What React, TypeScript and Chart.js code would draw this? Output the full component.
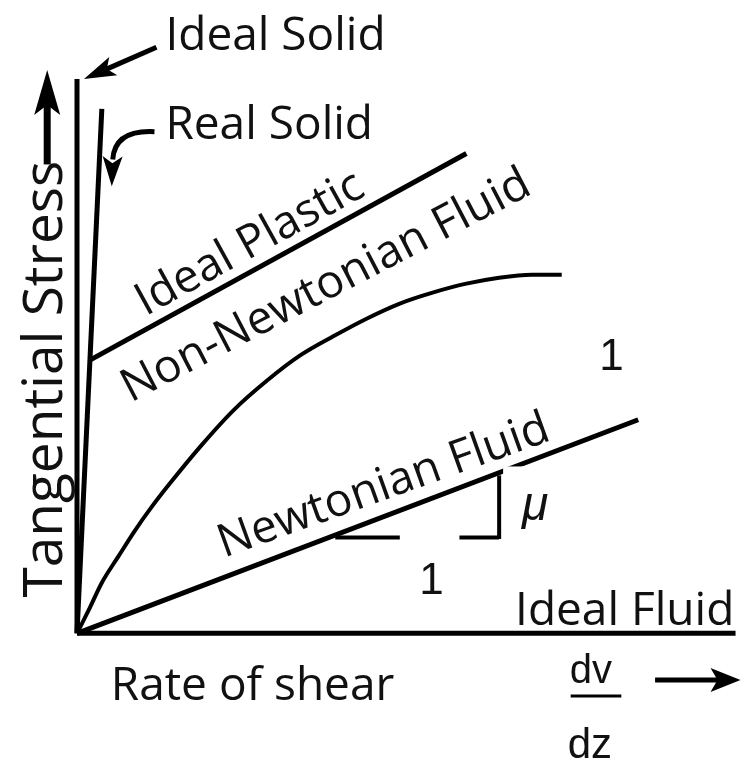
import React, { useEffect, useRef } from "react";
import { Chart, registerables } from "chart.js";
Chart.register(...registerables);

// Rate of shear (x) vs tangential stress (y), arbitrary units
const idealSolidX = [0, 0];
const idealSolidY = [0, 55.8];
const realSolidX = [0, 2.5];
const realSolidY = [0, 52.8];
const idealPlasticX = [1.3, 39.2];
const idealPlasticY = [27.5, 48.3];
const nonNewtonianX = [0, 1.3, 2.5, 4.2, 5.8, 7.5, 9.2, 12.5, 15.8, 19.2, 22.5, 25.8, 29.2, 32.5, 35.8, 39.2, 42.5, 45.8, 48.8];
const nonNewtonianY = [0, 2.6, 5.1, 7.8, 10.3, 12.7, 14.9, 18.9, 22.5, 25.5, 28.0, 29.9, 31.7, 33.2, 34.3, 35.2, 35.8, 36.1, 36.1];
const newtonianX = [0, 56.5];
const newtonianY = [0, 21.5];
const idealFluidX = [0, 66.3];
const idealFluidY = [0, 0];
// slope triangle (run 1, rise mu), base has a gap where the "1" label sits
const slopeBaseLeftX = [26.0, 32.5];
const slopeBaseRightX = [38.5, 42.5];
const slopeBaseY = [9.65, 9.65];
const slopeRiseX = [42.5, 42.5];
const slopeRiseY = [9.5, 15.9];

const X_MIN = -7.5, X_MAX = 67.0, Y_MIN = -13.0, Y_MAX = 63.5;

const pts = (xs: number[], ys: number[]) => xs.map((x, i) => ({ x, y: ys[i] }));

const OPEN = '"Open Sans", "DejaVu Sans", sans-serif';
const ARIAL = '"Liberation Sans", Arial, sans-serif';

type Label = { text: string; x: number; y: number; font: string; rot?: number; align?: CanvasTextAlign };
const labels: Label[] = [
  { text: "Ideal Solid", x: 8.9, y: 58.7, font: `46px ${OPEN}` },
  { text: "Real Solid", x: 8.9, y: 49.8, font: `46px ${OPEN}` },
  { text: "Tangential Stress", x: -1.5, y: 3.6, font: `55px ${OPEN}`, rot: -90 },
  { text: "Ideal Plastic", x: 6.9, y: 31.9, font: `46px ${OPEN}`, rot: -28.8 },
  { text: "Non-Newtonian Fluid", x: 5.4, y: 23.2, font: `46px ${OPEN}`, rot: -27.5 },
  { text: "Newtonian Fluid", x: 14.8, y: 7.6, font: `46px ${OPEN}`, rot: -19.8 },
  { text: "Ideal Fluid", x: 44.1, y: 0.8, font: `46px ${OPEN}` },
  { text: "Rate of shear", x: 3.4, y: -6.7, font: `46px ${OPEN}` },
  { text: "dv", x: 49.6, y: -5.0, font: `40px ${ARIAL}` },
  { text: "dz", x: 49.4, y: -12.5, font: `42px ${ARIAL}` },
  { text: "1", x: 53.8, y: 26.5, font: `44px ${ARIAL}`, align: "center" },
  { text: "1", x: 35.7, y: 4.0, font: `44px ${ARIAL}`, align: "center" },
  { text: "\u03bc", x: 44.8, y: 11.4, font: `italic 48px ${ARIAL}` },
];

function head(ctx: CanvasRenderingContext2D, fx: number, fy: number, tx: number, ty: number, len: number, half: number, notch: number) {
  const dx = tx - fx, dy = ty - fy;
  const L = Math.hypot(dx, dy);
  const ux = dx / L, uy = dy / L;
  const nx = -uy, ny = ux;
  const bx = tx - ux * len, by = ty - uy * len;
  ctx.beginPath();
  ctx.moveTo(tx, ty);
  ctx.lineTo(bx + nx * half, by + ny * half);
  ctx.lineTo(tx - ux * (len - notch), ty - uy * (len - notch));
  ctx.lineTo(bx - nx * half, by - ny * half);
  ctx.closePath();
  ctx.fill();
  return { sx: tx - ux * (len - notch - 1), sy: ty - uy * (len - notch - 1) };
}

const annotPlugin = {
  id: "annot",
  afterDatasetsDraw(chart: any) {
    const ctx: CanvasRenderingContext2D = chart.ctx;
    const sx = chart.scales.x, sy = chart.scales.y;
    const X = (v: number) => sx.getPixelForValue(v);
    const Y = (v: number) => sy.getPixelForValue(v);
    ctx.save();
    // white patch over Newtonian line beside slope triangle
    ctx.fillStyle = "#fff";
    ctx.fillRect(X(42.9), Y(16.8), X(47.0) - X(42.9), Y(14.9) - Y(16.8));

    ctx.fillStyle = "#000";
    ctx.strokeStyle = "#000";
    ctx.lineCap = "butt";
    // straight arrows
    const straight = [
      { fx: -3.0, fy: 47.2, tx: -3.0, ty: 56.7, w: 7, len: 45, half: 13, notch: 10 },
      { fx: 8.0, fy: 59.0, tx: 0.7, ty: 55.8, w: 5, len: 32, half: 10, notch: 7 },
      { fx: 58.2, fy: -4.7, tx: 66.8, ty: -4.7, w: 5, len: 30, half: 12, notch: 7 },
    ];
    for (const a of straight) {
      const e = head(ctx, X(a.fx), Y(a.fy), X(a.tx), Y(a.ty), a.len, a.half, a.notch);
      ctx.lineWidth = a.w;
      ctx.beginPath();
      ctx.moveTo(X(a.fx), Y(a.fy));
      ctx.lineTo(e.sx, e.sy);
      ctx.stroke();
    }
    // curved arrow to Real Solid
    const c0 = { x: X(7.8), y: Y(50.5) }, c1 = { x: X(3.8), y: Y(50.7) }, c2 = { x: X(3.6), y: Y(47.7) };
    ctx.lineWidth = 5;
    ctx.beginPath();
    ctx.moveTo(c0.x, c0.y);
    ctx.quadraticCurveTo(c1.x, c1.y, c2.x, c2.y);
    ctx.stroke();
    head(ctx, X(3.6), Y(48.5), X(3.5), Y(45.0), 30, 10, 7);

    // fraction bar dv/dz
    ctx.lineWidth = 3;
    ctx.beginPath();
    ctx.moveTo(X(49.7), Y(-6.3));
    ctx.lineTo(X(54.8), Y(-6.3));
    ctx.stroke();

    // texts
    ctx.fillStyle = "#111";
    ctx.textBaseline = "alphabetic";
    for (const l of labels) {
      ctx.save();
      ctx.translate(X(l.x), Y(l.y));
      if (l.rot) ctx.rotate((l.rot * Math.PI) / 180);
      ctx.font = l.font;
      ctx.textAlign = l.align || "left";
      ctx.fillText(l.text, 0, 0);
      ctx.restore();
    }
    ctx.restore();
  },
};

const line = (xs: number[], ys: number[], w: number, extra: any = {}) => ({
  data: pts(xs, ys),
  showLine: true,
  borderColor: "#000",
  backgroundColor: "#000",
  borderWidth: w,
  pointRadius: 0,
  fill: false,
  clip: false,
  borderCapStyle: "butt",
  ...extra,
});

export default function App() {
  const ref = useRef<HTMLCanvasElement>(null);
  useEffect(() => {
    document.body.style.margin = "0";
    const chart = new Chart(ref.current!, {
      type: "scatter",
      data: {
        datasets: [
          line(idealSolidX, idealSolidY, 5),
          line(realSolidX, realSolidY, 5),
          line(idealPlasticX, idealPlasticY, 5),
          line(nonNewtonianX, nonNewtonianY, 4, { cubicInterpolationMode: "monotone" }),
          line(newtonianX, newtonianY, 5),
          line(idealFluidX, idealFluidY, 5),
          line(slopeBaseLeftX, slopeBaseY, 4),
          line(slopeBaseRightX, slopeBaseY, 4),
          line(slopeRiseX, slopeRiseY, 4),
        ] as any,
      },
      options: {
        animation: false,
        responsive: false,
        devicePixelRatio: 1,
        events: [],
        layout: { padding: 0 },
        plugins: { legend: { display: false }, tooltip: { enabled: false } },
        scales: {
          x: { type: "linear", display: false, min: X_MIN, max: X_MAX },
          y: { type: "linear", display: false, min: Y_MIN, max: Y_MAX },
        },
      },
      plugins: [annotPlugin],
    });
    const fonts = (document as any).fonts;
    if (fonts && fonts.load) {
      Promise.all([
        fonts.load('46px "Open Sans"'),
        fonts.load('44px "Liberation Sans"'),
        fonts.load('italic 48px "Liberation Sans"'),
      ])
        .then(() => chart.update())
        .catch(() => {});
    }
    return () => chart.destroy();
  }, []);
  return (
    <div style={{ width: 745, height: 765, background: "#fff" }}>
      <canvas ref={ref} width={745} height={765} style={{ display: "block" }} />
    </div>
  );
}
